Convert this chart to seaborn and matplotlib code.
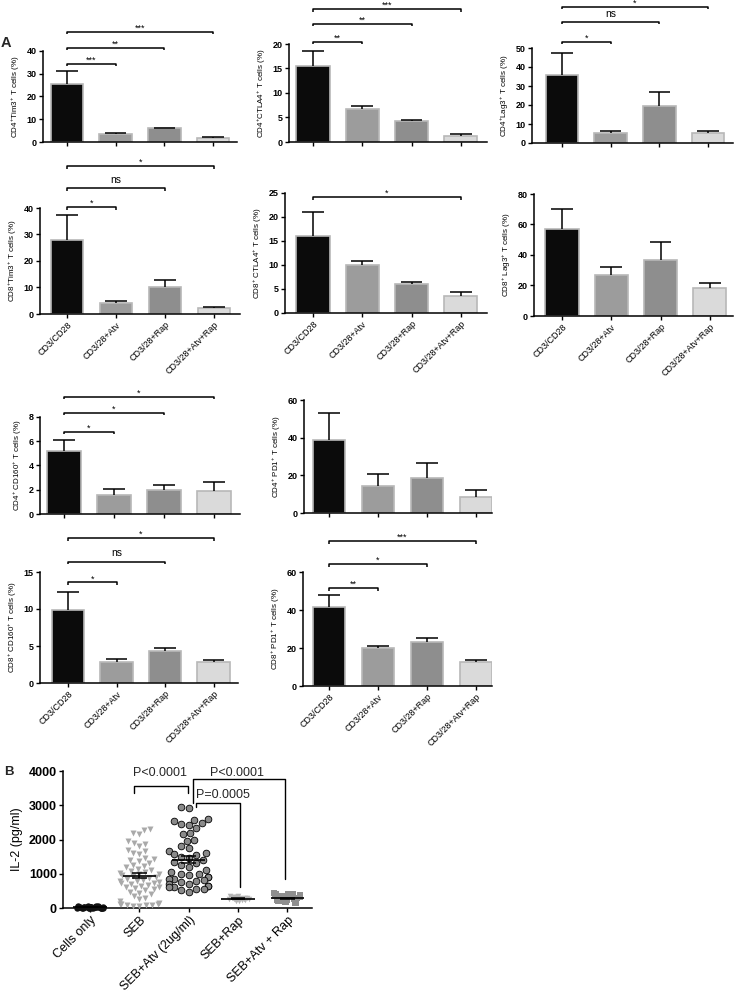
import matplotlib
matplotlib.use("Agg")
import matplotlib.pyplot as plt
import seaborn as sns
import numpy as np

sns.set_theme(style="ticks")
plt.rcParams['font.family'] = ['Liberation Sans', 'DejaVu Sans']
plt.rcParams['mathtext.fontset'] = 'custom'
plt.rcParams['mathtext.rm'] = 'Liberation Sans'
plt.rcParams['mathtext.it'] = 'Liberation Sans:italic'
plt.rcParams['mathtext.bf'] = 'Liberation Sans:bold'
np.random.seed(7)  # только для раскладки точек (jitter)

# === Данные панели A (среднее и SEM) ===
groups = ["CD3/CD28", "CD3/28+Atv", "CD3/28+Rap", "CD3/28+Atv+Rap"]
bar_colors = ["#0b0b0b", "#9c9c9c", "#8e8e8e", "#dadada"]

cd4_tim3_mean = [25.5, 3.5, 6.0, 1.8]
cd4_tim3_sem = [5.5, 0.3, 0.3, 0.3]
cd4_ctla4_mean = [15.5, 6.8, 4.2, 1.3]
cd4_ctla4_sem = [3.0, 0.6, 0.2, 0.4]
cd4_lag3_mean = [36.0, 5.0, 19.3, 5.2]
cd4_lag3_sem = [11.5, 1.5, 7.7, 1.1]
cd8_tim3_mean = [28.0, 4.3, 10.3, 2.2]
cd8_tim3_sem = [9.3, 0.5, 2.5, 0.5]
cd8_ctla4_mean = [16.1, 9.9, 6.1, 3.5]
cd8_ctla4_sem = [4.9, 0.9, 0.3, 0.9]
cd8_lag3_mean = [57.0, 27.0, 37.0, 18.5]
cd8_lag3_sem = [13.0, 5.0, 11.5, 3.0]
cd4_cd160_mean = [5.2, 1.6, 1.95, 1.9]
cd4_cd160_sem = [0.9, 0.45, 0.45, 0.7]
cd4_pd1_mean = [38.5, 14.5, 18.8, 8.5]
cd4_pd1_sem = [14.5, 6.0, 8.0, 3.7]
cd8_cd160_mean = [9.8, 2.8, 4.3, 2.8]
cd8_cd160_sem = [2.5, 0.5, 0.4, 0.3]
cd8_pd1_mean = [41.5, 19.8, 23.0, 12.8]
cd8_pd1_sem = [6.3, 1.2, 2.5, 1.0]

# значимость: (до какой группы, высота скобки, подпись)
cd4_tim3_sig = [(1, 34.3, "***"), (2, 41.3, "**"), (3, 48.4, "***")]
cd4_ctla4_sig = [(1, 20.4, "**"), (2, 24.1, "**"), (3, 27.1, "***")]
cd4_lag3_sig = [(1, 53.2, "*"), (2, 63.7, "ns"), (3, 71.6, "*")]
cd8_tim3_sig = [(1, 40.4, "*"), (2, 47.5, "ns"), (3, 55.8, "*")]
cd8_ctla4_sig = [(3, 24.2, "*")]
cd4_cd160_sig = [(1, 6.76, "*"), (2, 8.33, "*"), (3, 9.65, "*")]
cd8_cd160_sig = [(1, 13.6, "*"), (2, 16.4, "ns"), (3, 19.6, "*")]
cd8_pd1_sig = [(1, 51.6, "**"), (2, 64.2, "*"), (3, 76.3, "***")]

# === Данные панели B (IL-2, pg/ml) ===
il2_groups = ["Cells only", "SEB", "SEB+Atv (2ug/ml)", "SEB+Rap", "SEB+Atv + Rap"]
il2_cells = [60, 55, 50, 45, 40, 38, 35, 32, 30, 28, 25, 22, 20, 18, 15, 12,
             10, 8, 5, 5, 3, 2, 0, 0, 0, 42, 33, 27, 17, 7]
il2_seb = [2320, 2280, 2200, 2150, 1950, 1900, 1870, 1800, 1700, 1650, 1620,
           1580, 1450, 1420, 1400, 1380, 1300, 1250, 1230, 1200, 1150, 1100,
           1080, 1050, 1020, 1000, 980, 950, 920, 900, 880, 850, 820, 800, 780,
           760, 740, 720, 700, 680, 650, 620, 600, 580, 550, 520, 480, 450,
           400, 350, 300, 250, 200, 150, 130, 120, 110, 100, 90, 80, 70, 60]
il2_seb_atv = [2960, 2930, 2600, 2580, 2550, 2480, 2450, 2420, 2350, 2200,
               2150, 2000, 1960, 1800, 1750, 1650, 1600, 1580, 1550, 1480,
               1450, 1400, 1350, 1300, 1250, 1200, 1100, 1050, 1000, 980, 950,
               900, 900, 850, 850, 820, 800, 750, 700, 700, 650, 650, 600, 600,
               560, 550, 520, 480]
il2_seb_rap = [350, 340, 330, 320, 310, 300, 300, 290, 290, 285, 280, 280, 275,
               270, 270, 265, 260, 255, 250, 245, 240, 230, 220, 210, 200]
il2_seb_atv_rap = [430, 420, 410, 400, 390, 380, 370, 360, 350, 340, 330, 320,
                   310, 300, 300, 290, 280, 270, 260, 250, 240, 230, 220, 210,
                   200, 190, 180, 170, 160, 150]

fig = plt.figure(figsize=(7.35, 9.97), dpi=100)
W, H = 735.0, 997.0


def add_axes(left, right, top, bottom):
    return fig.add_axes([left / W, 1 - bottom / H, (right - left) / W, (bottom - top) / H])


def style_axes(ax, tick_fs):
    sns.despine(ax=ax)
    for s in ("left", "bottom"):
        ax.spines[s].set_linewidth(1.1)
        ax.spines[s].set_color("black")
    ax.tick_params(axis="both", length=3, width=1, color="black", direction="out",
                   pad=1.5, labelsize=tick_fs, labelcolor="black")
    for lbl in ax.get_yticklabels():
        lbl.set_fontweight("bold")


def bracket(ax, x1, x2, y, leg, text):
    ax.plot([x1, x1, x2, x2], [y - leg, y, y, y - leg], color="black", lw=1.1,
            clip_on=False, solid_capstyle="butt")
    if text == "ns":
        ax.text((x1 + x2) / 2, y + leg * 1.2, text, ha="center", va="bottom",
                fontsize=7.5, color="black", clip_on=False)
    else:
        ax.text((x1 + x2) / 2, y + leg * 0.4, text, ha="center", va="baseline",
                fontsize=6.5, color="black", clip_on=False)


def upper_err(ax, xs, means, sems, half):
    tops = np.asarray(means) + np.asarray(sems)
    ax.vlines(xs, means, tops, color="black", lw=1.1, zorder=4)
    ax.hlines(tops, np.asarray(xs) - half, np.asarray(xs) + half, color="black",
              lw=1.1, zorder=4)


sup = r"$^{+}$"
panels = [
    dict(mean=cd4_tim3_mean, sem=cd4_tim3_sem, ylabel=f"CD4{sup}Tim3{sup} T cells (%)",
         ymax=40, step=10, sig=cd4_tim3_sig, box=(43, 237, 51, 142), c0=67, sp=48.7, xl=False),
    dict(mean=cd4_ctla4_mean, sem=cd4_ctla4_sem, ylabel=f"CD4{sup}CTLA4{sup} T cells (%)",
         ymax=20, step=5, sig=cd4_ctla4_sig, box=(289, 487, 44, 142), c0=313, sp=49.3, xl=False),
    dict(mean=cd4_lag3_mean, sem=cd4_lag3_sem, ylabel=f"CD4{sup}Lag3{sup} T cells (%)",
         ymax=50, step=10, sig=cd4_lag3_sig, box=(532, 733, 48, 143), c0=562, sp=48.7, xl=False),
    dict(mean=cd8_tim3_mean, sem=cd8_tim3_sem, ylabel=f"CD8{sup}Tim3{sup} T cells (%)",
         ymax=40, step=10, sig=cd8_tim3_sig, box=(40, 240, 208, 314), c0=67, sp=49, xl=True),
    dict(mean=cd8_ctla4_mean, sem=cd8_ctla4_sem, ylabel=f"CD8{sup} CTLA4{sup} T cells (%)",
         ymax=25, step=5, sig=cd8_ctla4_sig, box=(285, 487, 193, 313), c0=313, sp=49.3, xl=True),
    dict(mean=cd8_lag3_mean, sem=cd8_lag3_sem, ylabel=f"CD8{sup} Lag3{sup} T cells (%)",
         ymax=80, step=20, sig=[], box=(534, 733, 194, 316), c0=562, sp=49.3, xl=True),
    dict(mean=cd4_cd160_mean, sem=cd4_cd160_sem, ylabel=f"CD4{sup} CD160{sup} T cells (%)",
         ymax=8, step=2, sig=cd4_cd160_sig, box=(40, 240, 417, 514), c0=64, sp=50, xl=False),
    dict(mean=cd4_pd1_mean, sem=cd4_pd1_sem, ylabel=f"CD4{sup} PD1{sup} T cells (%)",
         ymax=60, step=20, sig=[], box=(304, 492, 400, 513), c0=329, sp=49, xl=False),
    dict(mean=cd8_cd160_mean, sem=cd8_cd160_sem, ylabel=f"CD8{sup} CD160{sup} T cells (%)",
         ymax=15, step=5, sig=cd8_cd160_sig, box=(40, 238, 572, 683), c0=68, sp=48.5, xl=True),
    dict(mean=cd8_pd1_mean, sem=cd8_pd1_sem, ylabel=f"CD8{sup} PD1{sup} T cells (%)",
         ymax=60, step=20, sig=cd8_pd1_sig, box=(303, 492, 572, 686), c0=329, sp=49, xl=True),
]

for p in panels:
    left, right, top, bottom = p["box"]
    ax = add_axes(left, right, top, bottom)
    sns.barplot(x=groups, y=p["mean"], hue=groups, palette=bar_colors, legend=False,
                width=0.67, edgecolor="#b8b8b8", linewidth=1.2, errorbar=None, ax=ax)
    upper_err(ax, np.arange(4), p["mean"], p["sem"], 0.22)
    ax.set_xlim((left - p["c0"]) / p["sp"], (right - p["c0"]) / p["sp"])
    ax.set_ylim(0, p["ymax"])
    ax.set_yticks(np.arange(0, p["ymax"] + p["step"] / 2, p["step"]))
    ax.set_ylabel(p["ylabel"], fontsize=5.8, color="black", labelpad=3)
    ax.set_xticks(range(4))
    if p["xl"]:
        ax.set_xticklabels(groups, rotation=45, ha="right", rotation_mode="anchor", fontsize=7)
    else:
        ax.set_xticklabels([])
    style_axes(ax, 6.5)
    leg = p["ymax"] * 0.025
    for j, y, txt in p["sig"]:
        bracket(ax, 0, j, y, leg, txt)

fig.text(1 / W, 1 - 43 / H, "A", fontsize=10.5, fontweight="bold", va="center", ha="left")

# === Панель B ===
axb = add_axes(63, 312, 771, 908)
il2_data = [il2_cells, il2_seb, il2_seb_atv, il2_seb_rap, il2_seb_atv_rap]
il2_colors = ["#111111", "#a9a9a9", "#8a8a8a", "#b5b5b5", "#8f8f8f"]
il2_markers = ["o", "v", "o", "v", "s"]
il2_sizes = [4.6, 4.3, 4.8, 4.0, 4.4]
il2_swarm = [False, True, True, False, False]
for i, vals in enumerate(il2_data):
    kw = dict(x=[il2_groups[i]] * len(vals), y=vals, order=il2_groups,
              color=il2_colors[i], marker=il2_markers[i], size=il2_sizes[i],
              edgecolor="black", linewidth=0.6 if i == 2 else 0, ax=axb)
    if il2_swarm[i]:
        sns.swarmplot(warn_thresh=1.0, **kw)
    else:
        sns.stripplot(jitter=0.28, **kw)
for c in axb.collections:
    c.set_clip_on(False)

for i, vals in enumerate(il2_data):
    m = np.mean(vals)
    se = np.std(vals, ddof=1) / np.sqrt(len(vals))
    axb.hlines(m, i - 0.34, i + 0.34, color="black", lw=1.2, zorder=5)
    axb.vlines(i, m - se, m + se, color="black", lw=1.1, zorder=5)
    axb.hlines([m - se, m + se], i - 0.15, i + 0.15, color="black", lw=1.1, zorder=5)

axb.set_xlim(-0.55, 4.5)
axb.set_ylim(0, 4000)
axb.set_yticks([0, 1000, 2000, 3000, 4000])
axb.set_xticks(range(5))
axb.set_xticklabels(il2_groups, rotation=45, ha="right", rotation_mode="anchor", fontsize=9)
axb.set_ylabel("IL-2 (pg/ml)", fontsize=9, color="black", labelpad=4)
style_axes(axb, 9)

lw_b = 1.0
axb.plot([0.88, 0.88, 1.98, 1.98], [3358, 3562, 3562, 3358], color="black", lw=lw_b, clip_on=False)
axb.text(1.42, 3942, "P<0.0001", ha="center", va="center", fontsize=9, clip_on=False)
axb.plot([2.09, 2.09, 3.96, 3.96], [3066, 3767, 3767, 847], color="black", lw=lw_b, clip_on=False)
axb.text(2.98, 3942, "P<0.0001", ha="center", va="center", fontsize=9, clip_on=False)
axb.plot([2.15, 2.15, 3.03, 3.03], [2950, 3066, 3066, 613], color="black", lw=lw_b, clip_on=False)
axb.text(2.69, 3300, "P=0.0005", ha="center", va="center", fontsize=9, clip_on=False)

fig.text(4 / W, 1 - 772 / H, "B", fontsize=9.5, fontweight="bold", va="center", ha="left")

fig.savefig("out.png", dpi=100)
